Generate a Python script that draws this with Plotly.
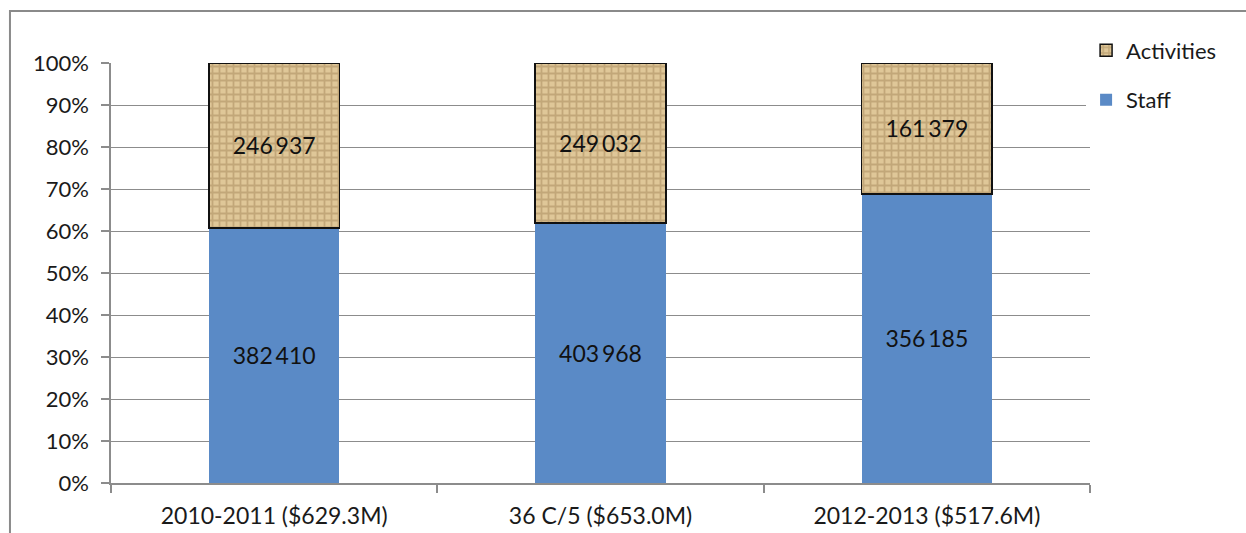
import plotly.graph_objects as go

# Budget periods and their two expenditure components (thousands of US$)
categories = ["2010-2011 ($629.3M)", "36 C/5 ($653.0M)", "2012-2013 ($517.6M)"]
staff = [382410, 403968, 356185]
activities = [246937, 249032, 161379]
y_ticks = [0, 10, 20, 30, 40, 50, 60, 70, 80, 90, 100]
y_tick_text = [f"{v}%" for v in y_ticks]


def fmt(v):
    return f"{v:,}".replace(",", "\u2009")


FONT = "Lato, Open Sans, sans-serif"
GRID = "#8c8c8c"

fig = go.Figure()
fig.add_trace(go.Bar(
    name="Staff",
    x=categories,
    y=staff,
    text=[fmt(v) for v in staff],
    textposition="inside",
    insidetextanchor="middle",
    textfont=dict(size=23, color="#111111", family=FONT),
    marker=dict(color="#5a8ac6", line=dict(width=0)),
    legendgroup="staff",
    legendrank=2,
))
fig.add_trace(go.Bar(
    name="Activities",
    x=categories,
    y=activities,
    text=[fmt(v) for v in activities],
    textposition="inside",
    insidetextanchor="middle",
    textfont=dict(size=23, color="#111111", family=FONT),
    marker=dict(
        color="#d4b985",
        line=dict(width=1.5, color="#111111"),
        pattern=dict(shape="+", fgcolor="#a5875a", bgcolor="#dfc798",
                     size=7, solidity=0.45, fillmode="overlay"),
    ),
    legendgroup="activities",
    legendrank=1,
))

# Outer chart frame
fig.add_shape(type="rect", xref="paper", yref="paper",
              x0=-0.1032, x1=1.17, y0=-0.14, y1=1.1238,
              line=dict(color="#8a8a8a", width=2), layer="below")

fig.update_layout(
    width=1246, height=533,
    margin=dict(l=111, r=156, t=63, b=50, autoexpand=False),
    barmode="stack",
    barnorm="percent",
    bargap=0.6,
    paper_bgcolor="white",
    plot_bgcolor="white",
    font=dict(family=FONT, size=22, color="#1a1a1a"),
    showlegend=True,
    legend=dict(
        x=0.996, y=1.08, xanchor="left", yanchor="top",
        traceorder="grouped", tracegroupgap=18,
        font=dict(size=22, family=FONT, color="#1a1a1a"),
        itemwidth=30,
    ),
    xaxis=dict(
        automargin=False,
        showline=True, linecolor=GRID, linewidth=1.5,
        ticks="outside", ticklen=8, tickcolor=GRID, tickwidth=1.5,
        tickson="boundaries",
        ticklabelstandoff=12,
        tickfont=dict(size=23, family=FONT, color="#1a1a1a"),
        showgrid=False,
    ),
    yaxis=dict(
        automargin=False,
        range=[0, 100],
        tickmode="array",
        tickvals=y_ticks,
        ticktext=y_tick_text,
        showline=True, linecolor=GRID, linewidth=1.5,
        ticks="outside", ticklen=8, tickcolor=GRID, tickwidth=1.5,
        ticklabelstandoff=8,
        showgrid=True, gridcolor=GRID, gridwidth=1.2,
        zeroline=False,
        tickfont=dict(size=22, family=FONT, color="#1a1a1a"),
    ),
)

fig.write_html("out.html")
